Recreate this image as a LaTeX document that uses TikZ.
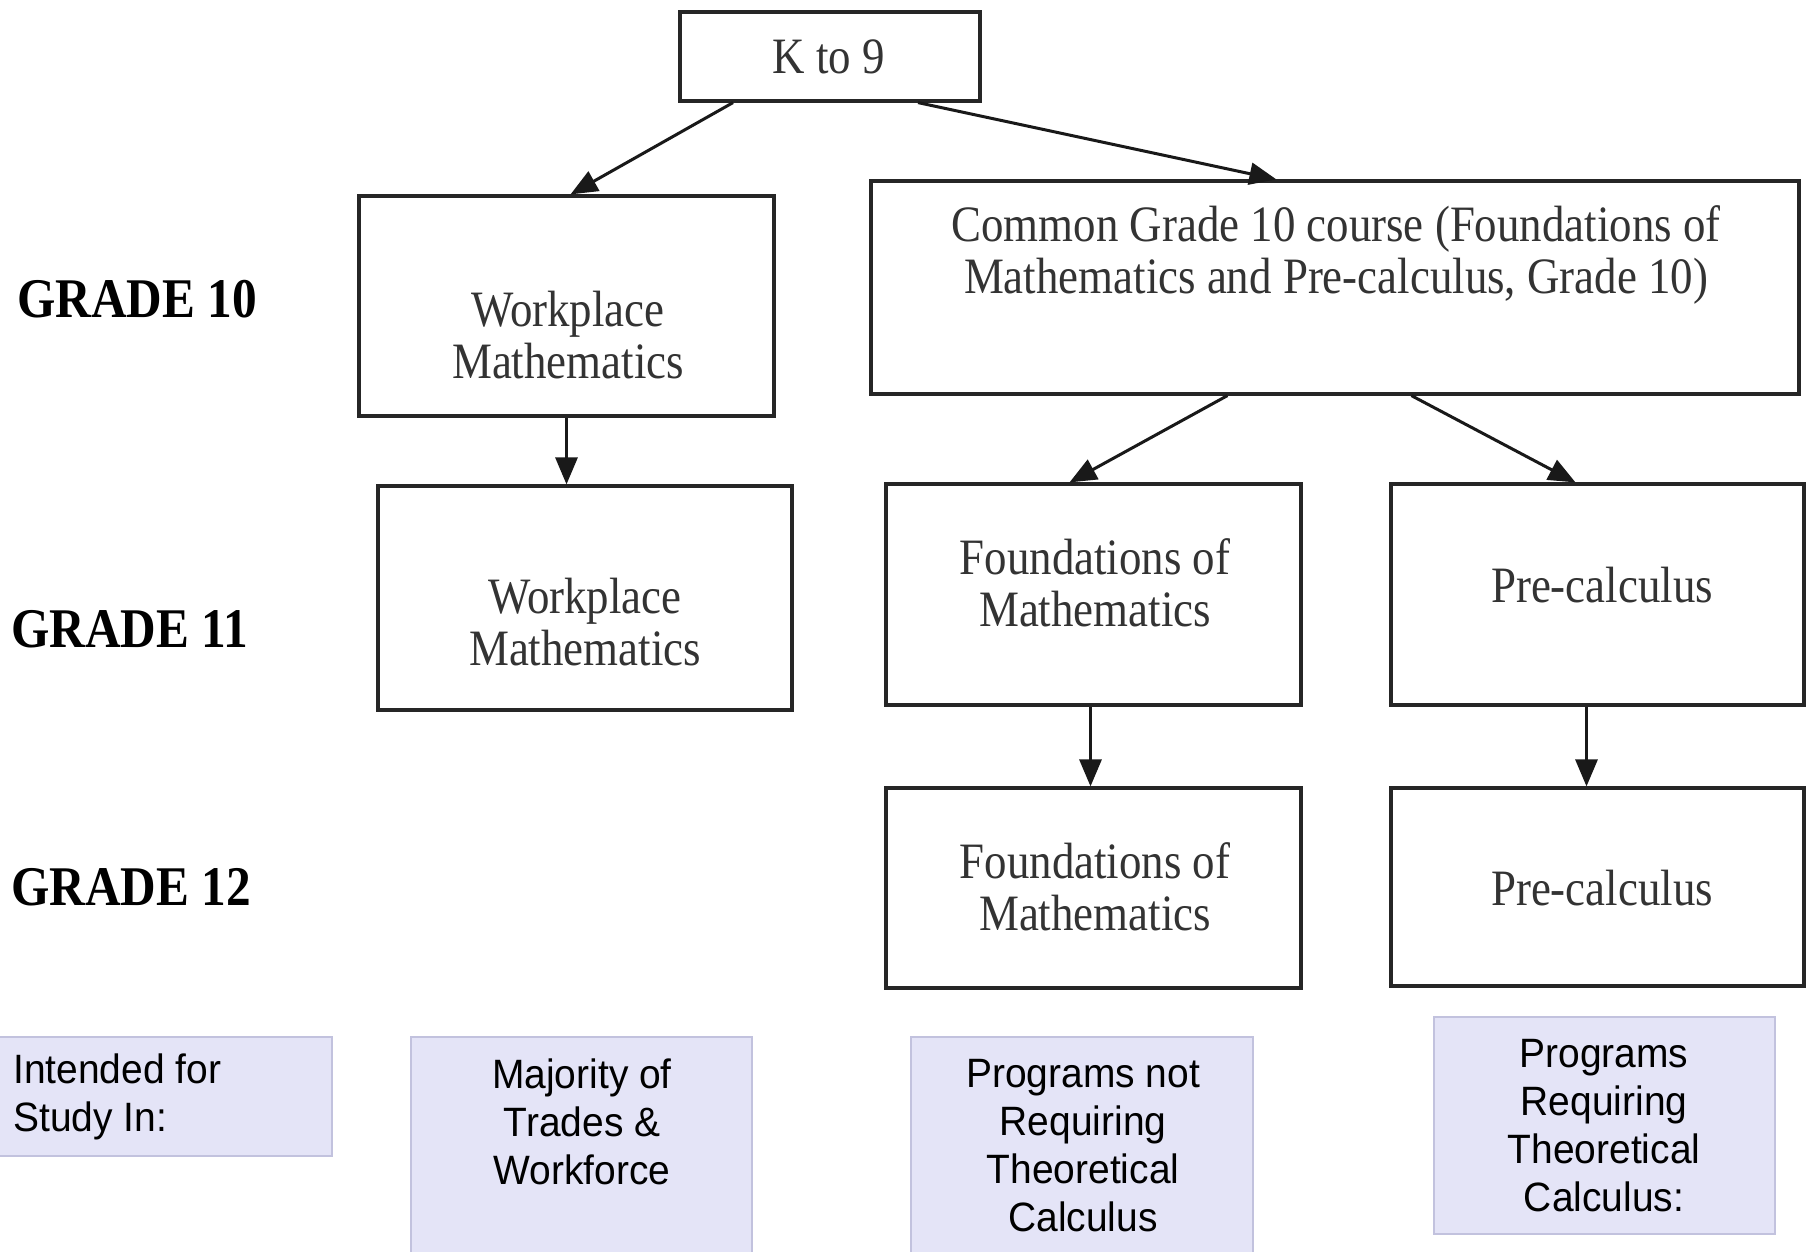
\documentclass[tikz,border=0pt]{standalone}
\usepackage{fontspec}
\usetikzlibrary{arrows.meta,calc}
\newfontfamily\serifc[FakeStretch=0.88]{Liberation Serif}
\newfontfamily\sansc[FakeStretch=0.95]{Liberation Sans}
\definecolor{bluefill}{HTML}{E4E4F7}
\definecolor{blueedge}{HTML}{C2C2DE}
\tikzset{
  box/.style={draw=black!85, line width=3.2pt, inner sep=0pt},
  bluebox/.style={draw=blueedge, fill=bluefill, line width=2.5pt, inner sep=0pt},
  stxt/.style={font=\serifc\fontsize{51}{52}\selectfont, align=center, text=black!80, inner sep=0pt},
  gtxt/.style={font=\serifc\bfseries\fontsize{56}{58}\selectfont, anchor=west, inner sep=0pt},
  ptxt/.style={font=\sansc\fontsize{41}{48}\selectfont, align=center, inner sep=0pt},
  conn/.style={line width=3pt, draw=black!90, -{Triangle[length=27pt,width=22pt]}}
}
\begin{document}
\begin{tikzpicture}[x=1pt,y=-1pt]
\useasboundingbox (0,0) rectangle (1806,1251);
\fill[white] (0,0) rectangle (1806,1251);
% boxes
\node[box, minimum width=300pt, minimum height=89pt] (k9) at (830,56.5) {};
\node[box, minimum width=415pt, minimum height=220pt] (wp10) at (566.5,306) {};
\node[box, minimum width=928pt, minimum height=213pt] (com10) at (1335,287.5) {};
\node[box, minimum width=414pt, minimum height=224pt] (wp11) at (585,598) {};
\node[box, minimum width=415pt, minimum height=221pt] (fo11) at (1093.5,594.5) {};
\node[box, minimum width=413pt, minimum height=221pt] (pc11) at (1597.5,594.5) {};
\node[box, minimum width=415pt, minimum height=200pt] (fo12) at (1093.5,888) {};
\node[box, minimum width=413pt, minimum height=198pt] (pc12) at (1597.5,887) {};
% texts in boxes
\node[stxt] (tk9) at (829,57) {K to 9};
\node[stxt] (twp10) at (568,335) {Workplace\\Mathematics};
\node[stxt] (tcom10) at (1336,255) {Common Grade 10 course (Foundations of\\Mathematics and Pre-calculus, Grade 10)};
\node[stxt] (twp11) at (585,622) {Workplace\\Mathematics};
\node[stxt] (tfo11) at (1095,583) {Foundations of\\Mathematics};
\node[stxt] (tpc11) at (1602,585) {Pre-calculus};
\node[stxt] (tfo12) at (1095,887) {Foundations of\\Mathematics};
\node[stxt] (tpc12) at (1602,888) {Pre-calculus};
% grade labels
\node[gtxt] (g10) at (17,299) {GRADE 10};
\node[gtxt] (g11) at (11,629) {GRADE 11};
\node[gtxt] (g12) at (11,887) {GRADE 12};
% blue boxes
\node[bluebox, minimum width=337pt, minimum height=119pt] (intended) at (163.5,1096.5) {};
\node[bluebox, minimum width=341pt, minimum height=223pt] (majority) at (581.5,1148.5) {};
\node[bluebox, minimum width=342pt, minimum height=223pt] (prognot) at (1082,1148.5) {};
\node[bluebox, minimum width=341pt, minimum height=217pt] (progreq) at (1604.5,1125.5) {};
\node[ptxt, align=left, anchor=west] (tintended) at (13,1097) {Intended for\\Study In:};
\node[ptxt] (tmajority) at (582,1122) {Majority of\\Trades \&\\Workforce};
\node[ptxt] (tprognot) at (1083,1146) {Programs not\\Requiring\\Theoretical\\Calculus};
\node[ptxt] (tprogreq) at (1604,1126) {Programs\\Requiring\\Theoretical\\Calculus:};
% connectors
\draw[conn] ([xshift=-97pt]k9.south) -- ([xshift=4pt]wp10.north);
\draw[conn] ([xshift=88pt]k9.south) -- ([xshift=407pt]com10.north west);
\draw[conn] (wp10.south) -- (wp10.south |- wp11.north);
\draw[conn] ([xshift=358pt]com10.south west) -- ([xshift=-24pt]fo11.north);
\draw[conn] ([xshift=542pt]com10.south west) -- ([xshift=-22pt]pc11.north);
\draw[conn] ([xshift=-3pt]fo11.south) -- ([xshift=-3pt]fo12.north);
\draw[conn] ([xshift=-11pt]pc11.south) -- ([xshift=-11pt]pc12.north);
\end{tikzpicture}
\end{document}
